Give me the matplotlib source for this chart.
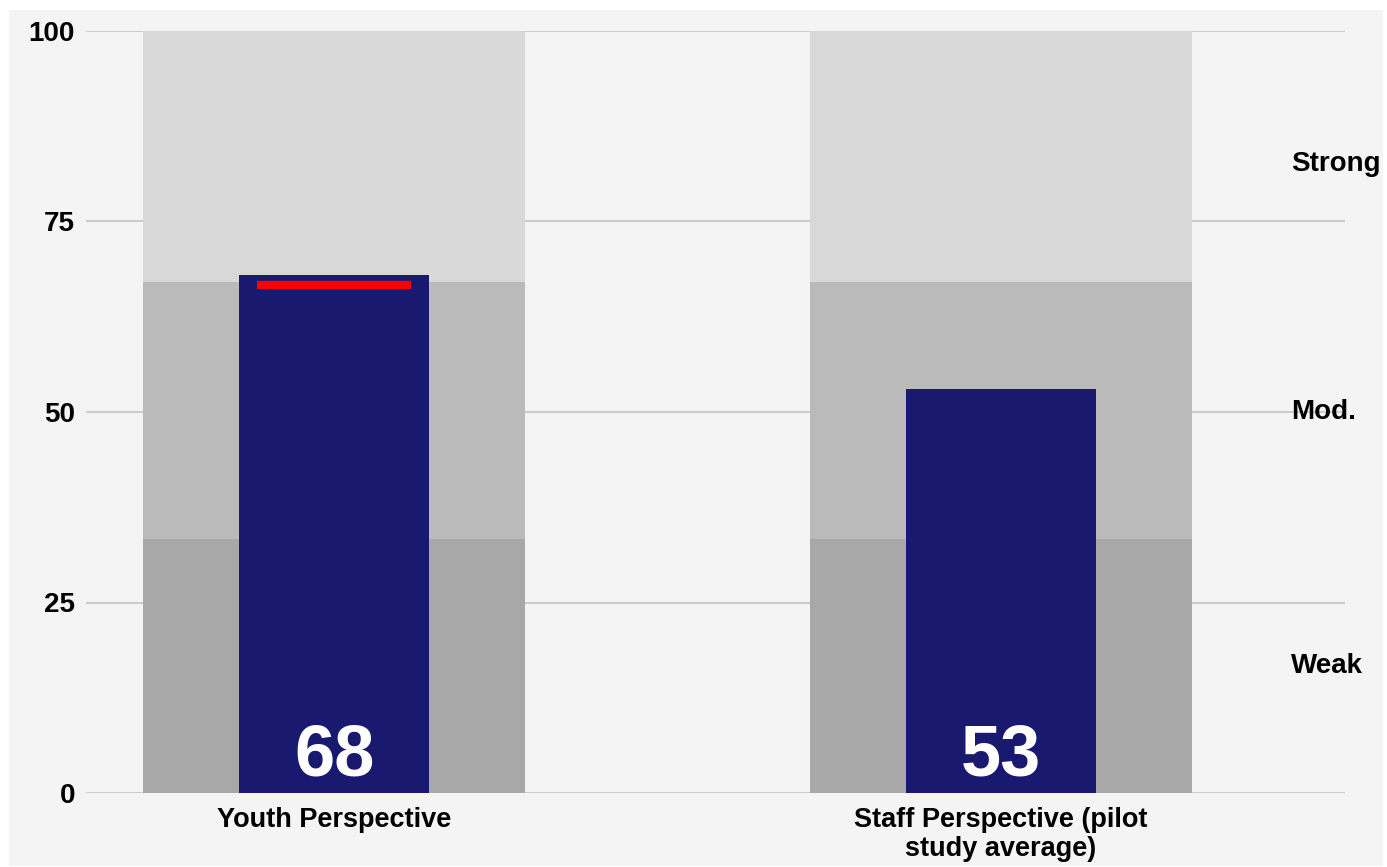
import matplotlib.pyplot as plt
from matplotlib.patches import Rectangle

plt.rcParams['font.family'] = ['Liberation Sans', 'DejaVu Sans']

categories = ['Youth Perspective', 'Staff Perspective (pilot\nstudy average)']
scores = [68, 53]
targets = [66.7, None]
band_edges = [0, 33.3, 67, 100]
band_colors = ['#a8a8a8', '#bababa', '#d8d8d8']
band_names = ['Weak', 'Mod.', 'Strong']
band_label_y = [16.7, 50, 82.5]
yticks = [0, 25, 50, 75, 100]

fig = plt.figure(figsize=(13.87, 8.67), dpi=100, facecolor='white')
# grey panel behind everything
fig.patches.append(Rectangle((9 / 1387, 1 - 866 / 867), (1383 - 9) / 1387, (866 - 10) / 867,
                             transform=fig.transFigure, facecolor='#f4f4f4', edgecolor='none', zorder=-10))

ax = fig.add_axes([86 / 1387, 1 - 793 / 867, (1345 - 86) / 1387, (793 - 31) / 867])
ax.set_facecolor('none')

x = list(range(len(categories)))
for xi in x:
    for i in range(3):
        ax.bar(xi, band_edges[i + 1] - band_edges[i], bottom=band_edges[i], width=0.573,
               color=band_colors[i], zorder=2)

ax.bar(x, scores, width=0.286, color='#191970', zorder=3)

for xi, t in zip(x, targets):
    if t is not None:
        ax.hlines(t, xi - 0.115, xi + 0.115, color='red', lw=6, zorder=4)

for xi, s in zip(x, scores):
    ax.text(xi, 2.3, str(s), color='white', fontsize=52, fontweight='bold',
            ha='center', va='baseline', zorder=5)

for name, yv in zip(band_names, band_label_y):
    ax.text(1.435, yv, name, fontsize=20, fontweight='bold', ha='left', va='center',
            zorder=5, clip_on=False)

ax.set_xlim(-0.372, 1.516)
ax.set_ylim(0, 100)
ax.set_yticks(yticks)
ax.set_yticklabels([str(v) for v in yticks], fontsize=20, fontweight='bold')
ax.set_xticks(x)
ax.set_xticklabels(categories, fontsize=19.5, fontweight='bold', linespacing=1.15)
ax.tick_params(length=0, pad=8)
ax.tick_params(axis='x', pad=10)
ax.grid(axis='y', color='#c8c8c8', lw=1.3, zorder=1)
ax.set_axisbelow(True)
for sp in ax.spines.values():
    sp.set_visible(False)

fig.savefig('out.png', dpi=100, facecolor='white')
